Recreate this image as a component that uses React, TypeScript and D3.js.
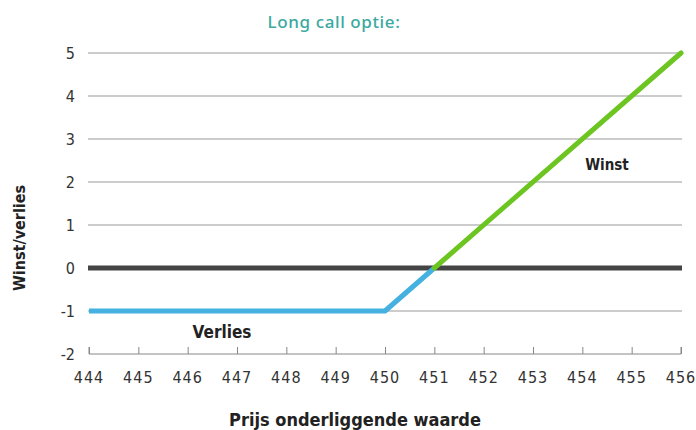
import { useEffect, useRef } from "react";
import * as d3 from "d3";

// Payoff of a long call option (strike 450, premium 1)
const prices = [444, 445, 446, 447, 448, 449, 450, 451, 452, 453, 454, 455, 456];
const lossPrices = [444, 450, 451];
const lossValues = [-1, -1, 0];
const profitPrices = [451, 456];
const profitValues = [0, 5];
const yTicks = [-2, -1, 0, 1, 2, 3, 4, 5];

const WIDTH = 696;
const HEIGHT = 430;
const MARGIN = { top: 53, right: 15, bottom: 76, left: 89 };
const FONT = "'DejaVu Sans Condensed', 'DejaVu Sans', sans-serif";

function App() {
  const svgRef = useRef<SVGSVGElement | null>(null);

  useEffect(() => {
    if (!svgRef.current) return;
    const svg = d3.select(svgRef.current);
    svg.selectAll("*").remove();

    const x = d3
      .scaleLinear()
      .domain([444, 456])
      .range([MARGIN.left, WIDTH - MARGIN.right]);
    const y = d3
      .scaleLinear()
      .domain([-2, 5])
      .range([HEIGHT - MARGIN.bottom, MARGIN.top]);

    // Title
    svg
      .append("text")
      .attr("x", 334)
      .attr("y", 28)
      .attr("text-anchor", "middle")
      .attr("fill", "#3aa99f")
      .style("font-family", "'Noto Sans', sans-serif")
      .style("font-weight", 500)
      .style("font-size", "17px")
      .style("letter-spacing", "0.6px")
      .text("Long call optie:");

    // Gridlines (skip 0 and -2)
    svg
      .append("g")
      .selectAll("line")
      .data(yTicks.filter((t) => t !== 0 && t !== -2))
      .join("line")
      .attr("x1", x(444) - 1)
      .attr("x2", x(456) + 1)
      .attr("y1", (d) => y(d))
      .attr("y2", (d) => y(d))
      .attr("stroke", "#9a9a9a")
      .attr("stroke-width", 1.2);

    // Zero line
    svg
      .append("line")
      .attr("x1", x(444) - 1)
      .attr("x2", x(456) + 1)
      .attr("y1", y(0))
      .attr("y2", y(0))
      .attr("stroke", "#444")
      .attr("stroke-width", 5);

    // Bottom axis
    const xAxis = svg
      .append("g")
      .attr("transform", `translate(0,${y(-2)})`)
      .call(
        d3
          .axisTop(x)
          .tickValues(prices)
          .tickSize(7)
          .tickFormat(() => "")
      );
    xAxis.select(".domain").attr("stroke", "#888").attr("d", `M${x(444)},-7V0H${x(456)}V-7`);
    xAxis.selectAll(".tick line").attr("stroke", "#888");

    svg
      .append("g")
      .selectAll("text")
      .data(prices)
      .join("text")
      .attr("x", (d) => x(d))
      .attr("y", y(-2) + 29)
      .attr("text-anchor", "middle")
      .attr("fill", "#333")
      .style("font-family", FONT)
      .style("font-size", "16px")
      .style("letter-spacing", "1px")
      .text((d) => d);

    // Y tick labels
    svg
      .append("g")
      .selectAll("text")
      .data(yTicks)
      .join("text")
      .attr("x", 75)
      .attr("y", (d) => y(d))
      .attr("dy", "0.35em")
      .attr("text-anchor", "end")
      .attr("fill", "#333")
      .style("font-family", FONT)
      .style("font-size", "16px")
      .text((d) => d);

    const line = d3
      .line<[number, number]>()
      .x((d) => x(d[0]))
      .y((d) => y(d[1]));

    svg
      .append("path")
      .datum(lossPrices.map((p, i) => [p, lossValues[i]] as [number, number]))
      .attr("d", line)
      .attr("fill", "none")
      .attr("stroke", "#45b1e0")
      .attr("stroke-width", 5)
      .attr("stroke-linejoin", "round");

    svg
      .append("path")
      .datum(profitPrices.map((p, i) => [p, profitValues[i]] as [number, number]))
      .attr("d", line)
      .attr("fill", "none")
      .attr("stroke", "#6cc520")
      .attr("stroke-width", 5)
      .attr("stroke-linecap", "round");

    // Annotations
    svg
      .append("text")
      .attr("x", 607)
      .attr("y", 170)
      .attr("text-anchor", "middle")
      .attr("fill", "#222")
      .style("font-family", FONT)
      .style("font-weight", "bold")
      .style("font-size", "15px")
      .text("Winst");

    svg
      .append("text")
      .attr("x", 222)
      .attr("y", 338)
      .attr("text-anchor", "middle")
      .attr("fill", "#222")
      .style("font-family", FONT)
      .style("font-weight", "bold")
      .style("font-size", "17px")
      .text("Verlies");

    // Axis titles
    svg
      .append("text")
      .attr("transform", `translate(25,${238}) rotate(-90)`)
      .attr("text-anchor", "middle")
      .attr("fill", "#222")
      .style("font-family", FONT)
      .style("font-weight", "bold")
      .style("font-size", "16px")
      .text("Winst/verlies");

    svg
      .append("text")
      .attr("x", 355)
      .attr("y", 426)
      .attr("text-anchor", "middle")
      .attr("fill", "#222")
      .style("font-family", FONT)
      .style("font-weight", "bold")
      .style("font-size", "18px")
      .text("Prijs onderliggende waarde");
  }, []);

  return (
    <svg
      ref={svgRef}
      width={WIDTH}
      height={HEIGHT}
      style={{ position: "absolute", left: 0, top: 0, background: "#fff" }}
    />
  );
}

export default App;
